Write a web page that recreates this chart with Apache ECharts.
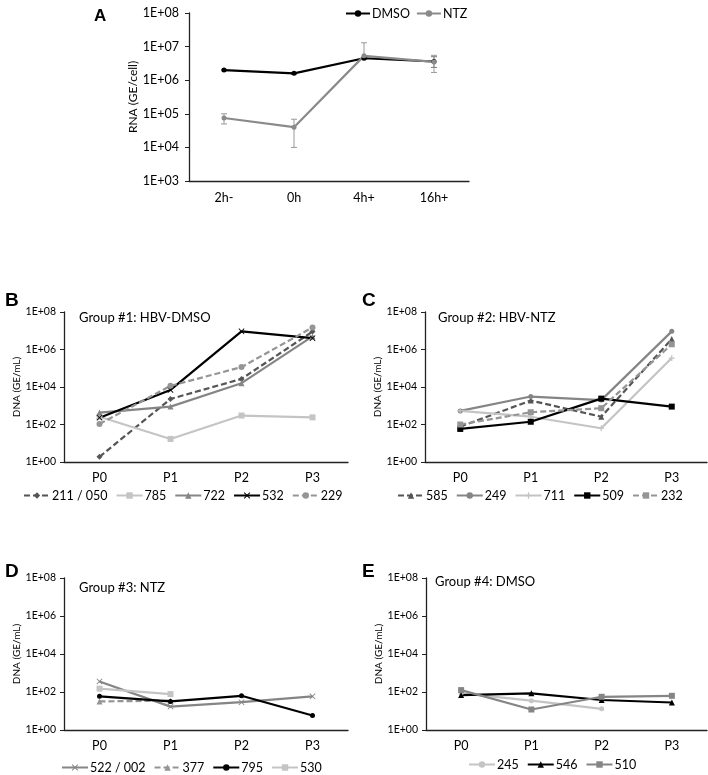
<!DOCTYPE html>
<html><head><meta charset="utf-8">
<script src="https://cdn.jsdelivr.net/npm/echarts@6/dist/echarts.min.js"></script>
<style>html,body{margin:0;padding:0;background:#fff}#c{width:708px;height:775px}</style>
</head><body><div id="c"></div>
<script>
// ---- Panel A data ----
const catA = ['2h-', '0h', '4h+', '16h+'];
const dmsoA = [2.0e6, 1.6e6, 4.5e6, 3.6e6];
const ntzA = [7.5e4, 4.0e4, 5.3e6, 3.5e6];
const ntzLowA = [5.0e4, 1.0e4, 4.2e6, 1.7e6];
const ntzHighA = [1.0e5, 6.9e4, 1.3e7, 5.5e6];
const dmsoLowA = [1.9e6, 1.5e6, 4.2e6, 2.4e6];
const dmsoHighA = [2.1e6, 1.7e6, 4.8e6, 5.0e6];
// ---- Panels B-E shared categories ----
const catP = ['P0', 'P1', 'P2', 'P3'];
// ---- Panel B: Group #1 HBV-DMSO ----
const b211 = [1.9, 2300, 2.7e4, 9e6];
const b785 = [260, 17, 300, 240];
const b722 = [430, 900, 1.6e4, 5e6];
const b532 = [230, 7000, 9.3e6, 4e6];
const b229 = [107, 1.15e4, 1.15e5, 1.5e7];
// ---- Panel C: Group #2 HBV-NTZ ----
const c585 = [77, 1900, 260, 3.6e6];
const c249 = [530, 3100, 2000, 9.3e6];
const c711 = [530, 260, 63, 3.5e5];
const c509 = [58, 140, 2400, 900];
const c232 = [100, 450, 740, 1.9e6];
// ---- Panel D: Group #3 NTZ ----
const d522 = [360, 17, 29, 59];
const d377 = [32, 35, null, null];
const d795 = [59, 32, 63, 5.8];
const d530 = [150, 78, null, null];
// ---- Panel E: Group #4 DMSO ----
const e245 = [85, 35, 13, null];
const e546 = [69, 85, 38, 28];
const e510 = [126, 12, 56, 63];

const FONT = 'Lato';
const SYM_X = 'path://M1,0L5,4L9,0L10,1L6,5L10,9L9,10L5,6L1,10L0,9L4,5L0,1Z';
const SYM_PLUS = 'path://M4,0H6V4H10V6H6V10H4V6H0V4H4Z';

function expFmt(v) {
  const e = Math.round(Math.log10(v));
  return '1E+' + (e < 10 ? '0' : '') + e;
}

const grids = [
  {left: 189, top: 13, width: 280, height: 168},
  {left: 64, top: 312, width: 284, height: 150},
  {left: 425, top: 312, width: 282, height: 150},
  {left: 64, top: 578, width: 284, height: 152},
  {left: 426, top: 578, width: 281, height: 152}
];

function xAx(i, cats, fs, margin) {
  return {
    type: 'category', gridIndex: i, data: cats, boundaryGap: true,
    axisLine: {lineStyle: {color: '#222', width: 1.3}},
    axisTick: {alignWithLabel: true, length: 4, lineStyle: {color: '#222'}},
    axisLabel: {color: '#000', fontSize: fs, fontFamily: FONT, margin: margin}
  };
}
function yAx(i, min, max, interval, fs, margin, name, nfs, ngap) {
  return {
    type: 'log', logBase: 10, gridIndex: i, min: min, max: max, interval: interval,
    axisLine: {show: true, lineStyle: {color: '#222', width: 1.3}},
    axisTick: {show: true, length: 4, lineStyle: {color: '#222'}},
    splitLine: {show: false},
    axisLabel: {color: '#000', fontSize: fs, fontFamily: FONT, margin: margin, formatter: expFmt},
    name: name, nameLocation: 'middle', nameRotate: 90, nameGap: ngap,
    nameTextStyle: {color: '#000', fontSize: nfs, fontFamily: FONT}
  };
}

function line(name, data, gi, color, symbol, dashed, size) {
  return {
    name: name, type: 'line', xAxisIndex: gi, yAxisIndex: gi, data: data,
    symbol: symbol, symbolSize: size || 6, showSymbol: true,
    connectNulls: false, animation: false,
    lineStyle: {color: color, width: 2.2, type: dashed ? [6, 3] : 'solid'},
    itemStyle: {color: color}, z: 3
  };
}

function errBars(name, lows, highs, color) {
  return {
    name: name, type: 'custom', xAxisIndex: 0, yAxisIndex: 0, animation: false, z: 2,
    data: lows.map((l, i) => [i, l, highs[i]]),
    renderItem: function (params, api) {
      const lo = api.coord([api.value(0), api.value(1)]);
      const hi = api.coord([api.value(0), api.value(2)]);
      const w = 3;
      const st = {stroke: color, lineWidth: 1};
      return {type: 'group', children: [
        {type: 'line', shape: {x1: lo[0], y1: lo[1], x2: hi[0], y2: hi[1]}, style: st},
        {type: 'line', shape: {x1: lo[0] - w, y1: lo[1], x2: lo[0] + w, y2: lo[1]}, style: st},
        {type: 'line', shape: {x1: hi[0] - w, y1: hi[1], x2: hi[0] + w, y2: hi[1]}, style: st}
      ]};
    }
  };
}

const legendBase = {
  itemWidth: 26, itemHeight: 8, itemGap: 8,
  textStyle: {color: '#000', fontSize: 12.5, fontFamily: FONT, padding: [0, 0, 0, -3]}
};

const option = {
  animation: false,
  textStyle: {fontFamily: FONT},
  title: [
    {text: 'A', left: 89, top: 3, textStyle: {fontSize: 17, fontWeight: 'bold', color: '#000', fontFamily: 'Liberation Sans'}},
    {text: 'B', left: 0, top: 286, textStyle: {fontSize: 19, fontWeight: 'bold', color: '#000', fontFamily: 'Liberation Sans'}},
    {text: 'C', left: 357, top: 286, textStyle: {fontSize: 19, fontWeight: 'bold', color: '#000', fontFamily: 'Liberation Sans'}},
    {text: 'D', left: 0, top: 557, textStyle: {fontSize: 19, fontWeight: 'bold', color: '#000', fontFamily: 'Liberation Sans'}},
    {text: 'E', left: 357, top: 557, textStyle: {fontSize: 19, fontWeight: 'bold', color: '#000', fontFamily: 'Liberation Sans'}},
    {text: 'Group #1: HBV-DMSO', left: 74, top: 306, textStyle: {fontSize: 13, fontWeight: 'normal', color: '#000', fontFamily: FONT}},
    {text: 'Group #2: HBV-NTZ', left: 433, top: 306, textStyle: {fontSize: 13, fontWeight: 'normal', color: '#000', fontFamily: FONT}},
    {text: 'Group #3: NTZ', left: 74, top: 576, textStyle: {fontSize: 13, fontWeight: 'normal', color: '#000', fontFamily: FONT}},
    {text: 'Group #4: DMSO', left: 430, top: 570, textStyle: {fontSize: 13, fontWeight: 'normal', color: '#000', fontFamily: FONT}}
  ],
  grid: grids,
  xAxis: [
    xAx(0, catA, 12.5, 10), xAx(1, catP, 12.5, 9), xAx(2, catP, 12.5, 9), xAx(3, catP, 12.5, 9), xAx(4, catP, 12.5, 9)
  ],
  yAxis: [
    yAx(0, 1e3, 1e8, 1, 12.5, 10, 'RNA (GE/cell)', 12, 44),
    yAx(1, 1, 1e8, 2, 10.5, 8, 'DNA (GE/mL)', 10, 37),
    yAx(2, 1, 1e8, 2, 10.5, 8, 'DNA (GE/mL)', 10, 37),
    yAx(3, 1, 1e8, 2, 10.5, 8, 'DNA (GE/mL)', 10, 37),
    yAx(4, 1, 1e8, 2, 10.5, 8, 'DNA (GE/mL)', 10, 37)
  ],
  legend: [
    Object.assign({}, legendBase, {data: ['DMSO', 'NTZ'], left: 340, top: 2, itemWidth: 24, itemGap: 6}),
    Object.assign({}, legendBase, {data: ['211 / 050', '785', '722', '532', '229'], left: 18, top: 484}),
    Object.assign({}, legendBase, {data: ['585', '249', '711', '509', '232'], left: 392, top: 484}),
    Object.assign({}, legendBase, {data: ['522 / 002', '377', '795', '530'], left: 56, top: 756}),
    Object.assign({}, legendBase, {data: ['245', '546', '510'], left: 463, top: 753})
  ],
  series: [
    errBars('errDMSO', dmsoLowA, dmsoHighA, '#777'),
    errBars('errNTZ', ntzLowA, ntzHighA, '#999'),
    line('DMSO', dmsoA, 0, '#000', 'circle', false, 5),
    line('NTZ', ntzA, 0, '#8a8a8a', 'circle', false, 5),

    line('211 / 050', b211, 1, '#555', 'diamond', true, 6),
    line('785', b785, 1, '#c4c4c4', 'rect', false, 6),
    line('722', b722, 1, '#858585', 'triangle', false, 6),
    line('532', b532, 1, '#000', SYM_X, false, 6),
    line('229', b229, 1, '#959595', 'circle', true, 6),

    line('585', c585, 2, '#555', 'triangle', true, 6),
    line('249', c249, 2, '#858585', 'circle', false, 5),
    line('711', c711, 2, '#c4c4c4', SYM_PLUS, false, 6),
    line('509', c509, 2, '#000', 'rect', false, 6),
    line('232', c232, 2, '#959595', 'rect', true, 6),

    line('522 / 002', d522, 3, '#858585', SYM_X, false, 6),
    line('377', d377, 3, '#959595', 'triangle', true, 6),
    line('795', d795, 3, '#000', 'circle', false, 5),
    line('530', d530, 3, '#c4c4c4', 'rect', false, 6),

    line('245', e245, 4, '#c4c4c4', 'circle', false, 5),
    line('546', e546, 4, '#000', 'triangle', false, 6),
    line('510', e510, 4, '#858585', 'rect', false, 6)
  ]
};

const chart = echarts.init(document.getElementById('c'), null, {renderer: 'canvas'});
chart.setOption(option);
</script>
</body></html>
